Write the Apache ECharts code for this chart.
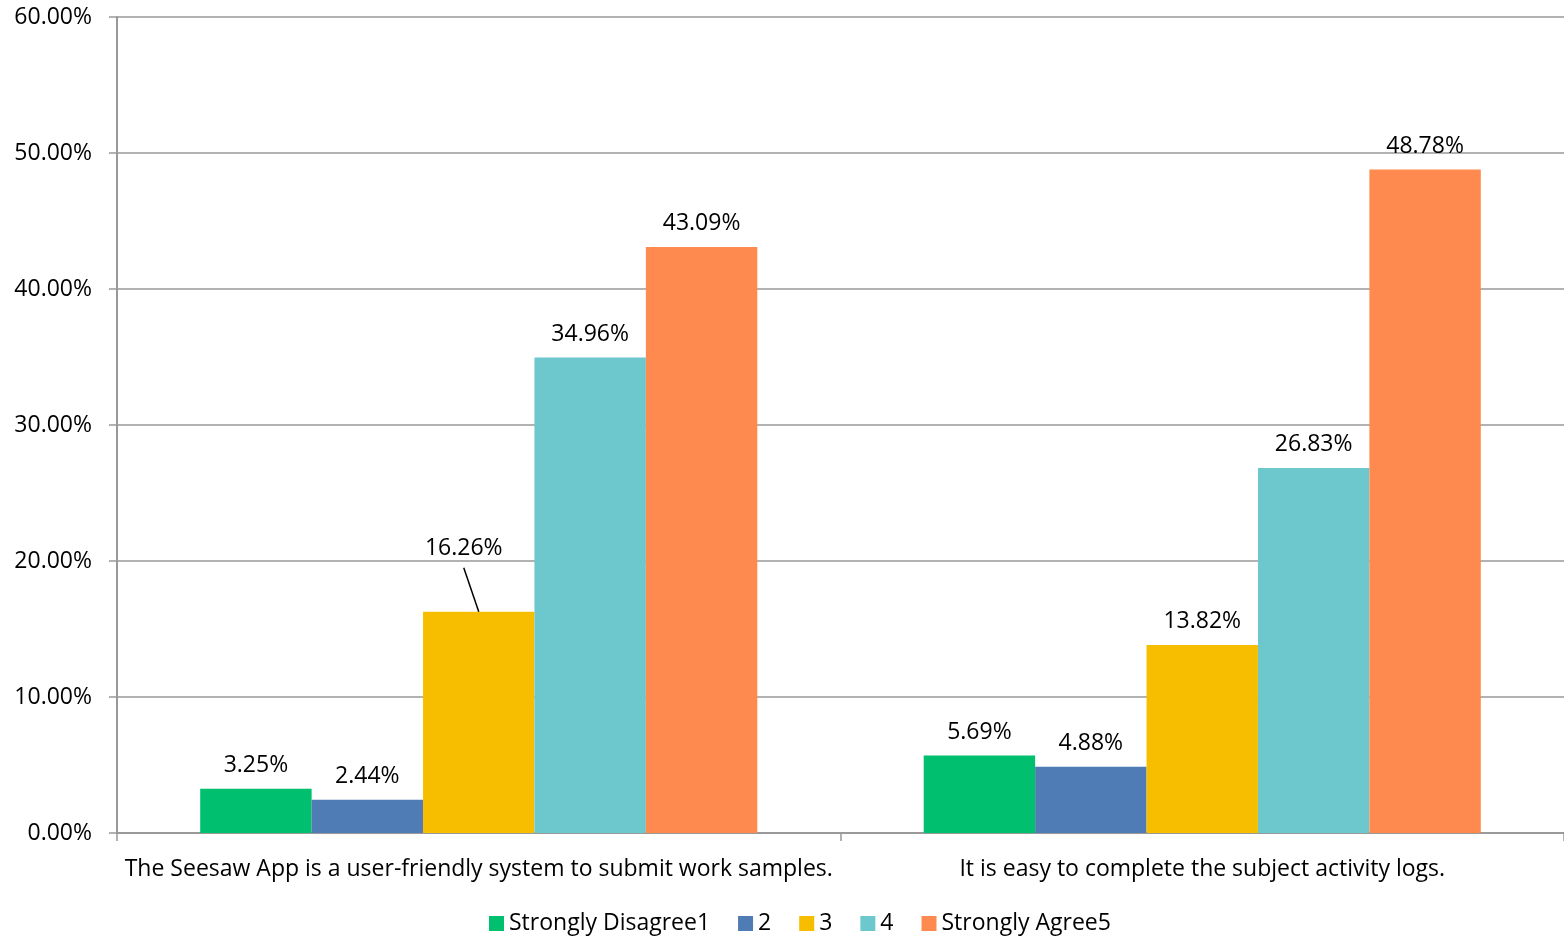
<!DOCTYPE html>
<html><head><meta charset="utf-8">
<script src="https://cdn.jsdelivr.net/npm/echarts@6/dist/echarts.min.js"></script>
<style>html,body{margin:0;padding:0;background:#fff}#c{width:1564px;height:940px}</style>
</head><body><div id="c"></div>
<script>
var categories = ["The Seesaw App is a user-friendly system to submit work samples.", "It is easy to complete the subject activity logs."];
var seriesNames = ["Strongly Disagree1", "2", "3", "4", "Strongly Agree5"];
var s1 = [3.25, 5.69];
var s2 = [2.44, 4.88];
var s3 = [16.26, 13.82];
var s4 = [34.96, 26.83];
var s5 = [43.09, 48.78];
var colors = ["#00bf6f", "#4f7cb5", "#f7be00", "#6cc8cc", "#ff8a50"];
var FONT = "Open Sans";
var FS = 23;
var allData = [s1, s2, s3, s4, s5];
var series = allData.map(function (d, i) {
  var s = {
    name: seriesNames[i], type: 'bar', data: d,
    barGap: '0%', barCategoryGap: '23%',
    itemStyle: { color: colors[i] },
    label: { show: true, position: 'top', distance: 12, fontFamily: FONT, fontSize: FS, color: '#000',
      formatter: function (p) { return p.value.toFixed(2) + '%'; } }
  };
  if (i === 2) {
    s.labelLayout = function (p) { return p.dataIndex === 0 ? { dx: -15, dy: -40 } : {}; };
  }
  return s;
});
// leader line for the moved "3" label of the first category (middle bar = category centre)
series.push({
  type: 'custom', name: 'leader', silent: true, z: 5,
  data: [[0, s3[0]]],
  renderItem: function (params, api) {
    var p = api.coord([api.value(0), api.value(1)]);
    return { type: 'line', shape: { x1: p[0], y1: p[1], x2: p[0] - 15, y2: p[1] - 44 },
      style: { stroke: '#000', lineWidth: 1.5 } };
  }
});
var chart = echarts.init(document.getElementById('c'));
chart.setOption({
  animation: false,
  textStyle: { fontFamily: FONT },
  grid: { left: 117, right: 0, top: 17, bottom: 107, containLabel: false },
  legend: { bottom: 0, left: 484, itemWidth: 15, itemHeight: 15, itemGap: 28, icon: 'rect',
    textStyle: { fontFamily: FONT, fontSize: FS, color: '#000' }, data: seriesNames },
  xAxis: { type: 'category', data: categories,
    axisLine: { lineStyle: { color: '#999', width: 2 } },
    axisTick: { show: true, length: 8, inside: false, lineStyle: { color: '#999', width: 1.5 } },
    axisLabel: { fontFamily: FONT, fontSize: FS, color: '#000', margin: 25, interval: 0 } },
  yAxis: { type: 'value', min: 0, max: 60, interval: 10,
    axisLine: { show: true, lineStyle: { color: '#999', width: 2 } },
    axisTick: { show: true, length: 8, lineStyle: { color: '#999', width: 1.5 } },
    splitLine: { lineStyle: { color: '#999', width: 1.5 } },
    axisLabel: { fontFamily: FONT, fontSize: FS, color: '#000', margin: 25,
      formatter: function (v) { return v.toFixed(2) + '%'; } } },
  series: series
});
</script></body></html>
